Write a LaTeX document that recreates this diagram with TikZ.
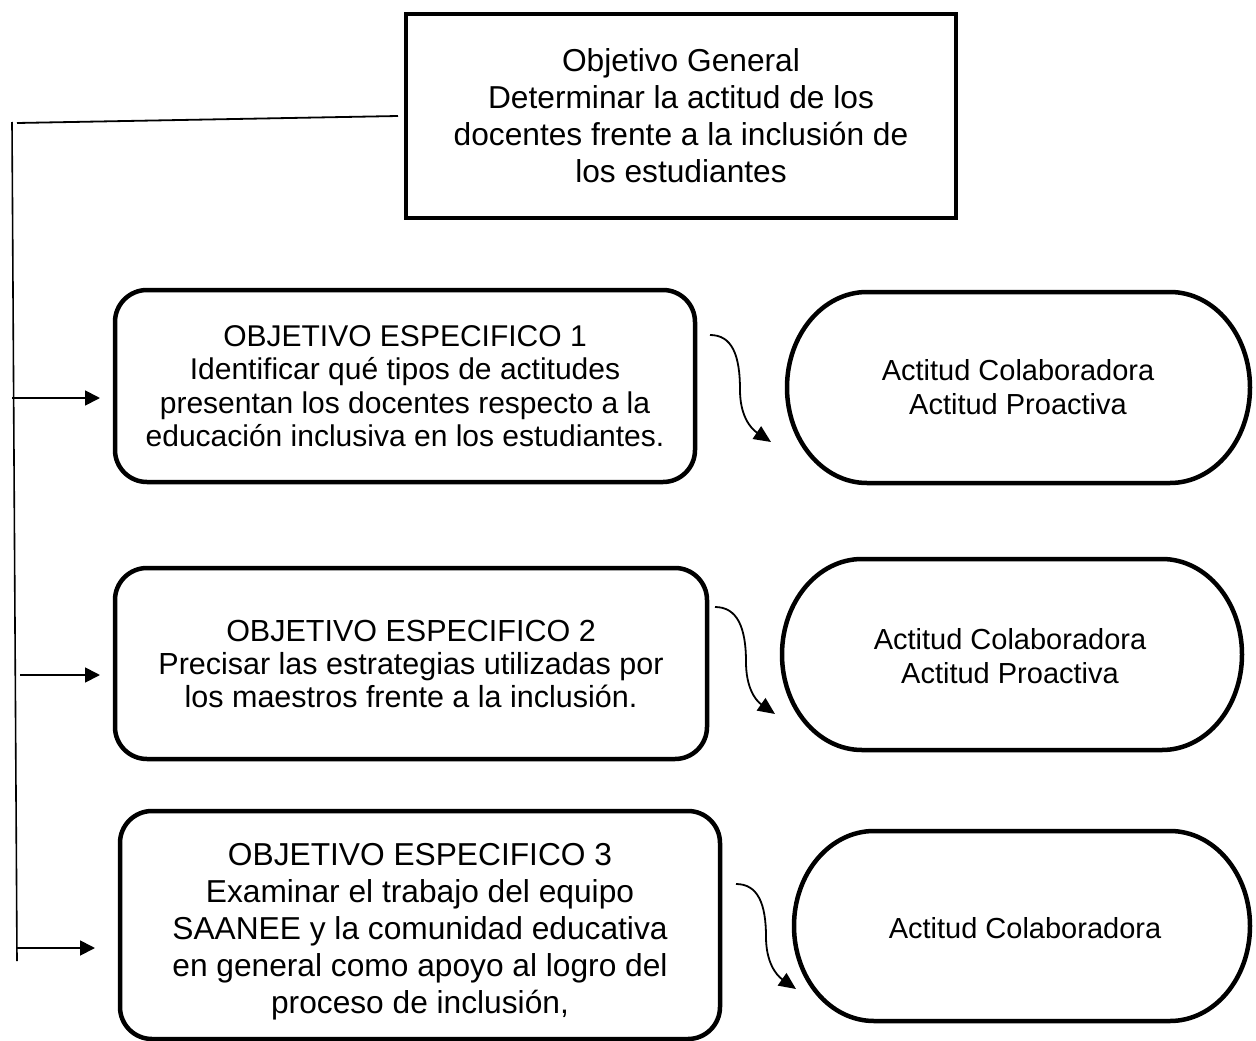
\documentclass[tikz,border=0pt]{standalone}
\usepackage{fontspec}
\setmainfont{Liberation Sans}
\usetikzlibrary{arrows.meta}
\newcommand{\ovalshape}[4]{% left top right bottom
  \draw[stadiumline] ({#1+80},#2) -- ({#3-80},#2)
   .. controls ({#3-35.8},#2) and (#3,{(#2+#4)/2-0.5523*(#4-#2)/2}) .. (#3,{(#2+#4)/2})
   .. controls (#3,{(#2+#4)/2+0.5523*(#4-#2)/2}) and ({#3-35.8},#4) .. ({#3-80},#4)
   -- ({#1+80},#4)
   .. controls ({#1+35.8},#4) and (#1,{(#2+#4)/2+0.5523*(#4-#2)/2}) .. (#1,{(#2+#4)/2})
   .. controls (#1,{(#2+#4)/2-0.5523*(#4-#2)/2}) and ({#1+35.8},#2) .. cycle;}
\begin{document}
\begin{tikzpicture}[x=1pt,y={(0pt,-1pt)},
  thickborder/.style={draw=black, line width=4.5pt},
  mainbox/.style={thickborder, inner sep=0pt, align=center, minimum width=550pt, minimum height=204pt, font=\fontsize{31.7}{37}\selectfont},
  objbox/.style={thickborder, rounded corners=32pt, inner sep=0pt, align=center},
  resultlabel/.style={inner sep=0pt, align=center, font=\fontsize{29}{34}\selectfont},
  stadiumline/.style={line width=4.5pt},
  link/.style={line width=1.8pt},
  spine/.style={line width=1.6pt},
  arr/.style={line width=1.8pt, -{Triangle[length=15pt,width=15pt]}},
  curvearr/.style={line width=1.8pt, -{Triangle[length=17pt,width=15pt]}}
]
\useasboundingbox (0,0) rectangle (1256,1041);

% general objective
\node[mainbox] (gen) at (681,116) {Objetivo General\\Determinar la actitud de los\\docentes frente a la inclusión de\\los estudiantes};

% specific objectives
\node[objbox, minimum width=580pt, minimum height=192pt, font=\fontsize{30}{33.5}\selectfont] (b1) at (405,386)
  {OBJETIVO ESPECIFICO 1\\Identificar qué tipos de actitudes\\presentan los docentes respecto a la\\educación inclusiva en los estudiantes.};
\node[objbox, minimum width=592pt, minimum height=191pt, font=\fontsize{30.5}{33}\selectfont] (b2) at (411,663.5)
  {OBJETIVO ESPECIFICO 2\\Precisar las estrategias utilizadas por\\los maestros frente a la inclusión.};
\node[objbox, minimum width=600pt, minimum height=228pt, font=\fontsize{31.7}{37}\selectfont] (b3) at (420,925)
  {\parbox{600pt}{\vspace*{14pt}\centering OBJETIVO ESPECIFICO 3\\Examinar el trabajo del equipo\\SAANEE y la comunidad educativa\\en general como apoyo al logro del\\proceso de inclusión,}};

% results
\ovalshape{787}{292}{1250}{483}
\ovalshape{782}{559}{1242}{750}
\ovalshape{794}{831}{1250}{1021}
\node[resultlabel] (r1) at (1018,387) {Actitud Colaboradora\\Actitud Proactiva};
\node[resultlabel] (r2) at (1010,656) {Actitud Colaboradora\\Actitud Proactiva};
\node[resultlabel] (r3) at (1025,928) {Actitud Colaboradora};

% left bracket
\coordinate (vtop) at (12,122);
\coordinate (vbot) at (17,961);
\coordinate (hend) at (398,116);
\coordinate (htop) at (17,123);
\draw[spine] (vtop) -- (vbot);
\draw[link] (htop) -- (hend);

\coordinate (a1s) at (12,398);
\coordinate (a1t) at (100,398);
\coordinate (a2s) at (20,675);
\coordinate (a2t) at (100,675);
\coordinate (a3s) at (17,948);
\coordinate (a3t) at (95,948);
\draw[arr] (a1s) -- (a1t);
\draw[arr] (a2s) -- (a2t);
\draw[arr] (a3s) -- (a3t);

% curved connectors
\coordinate (c1s) at (710,335);
\coordinate (c1t) at (771,442);
\coordinate (c2s) at (715,607);
\coordinate (c2t) at (775,714);
\coordinate (c3s) at (736,884);
\coordinate (c3t) at (796,989);
\draw[curvearr] (c1s) .. controls (732,335) and (740,355) .. (740,390) .. controls (740,415) and (750,428) .. (c1t);
\draw[curvearr] (c2s) .. controls (737,607) and (746,627) .. (746,662) .. controls (746,687) and (755,700) .. (c2t);
\draw[curvearr] (c3s) .. controls (758,884) and (766,904) .. (766,937) .. controls (766,962) and (776,975) .. (c3t);
\end{tikzpicture}
\end{document}
